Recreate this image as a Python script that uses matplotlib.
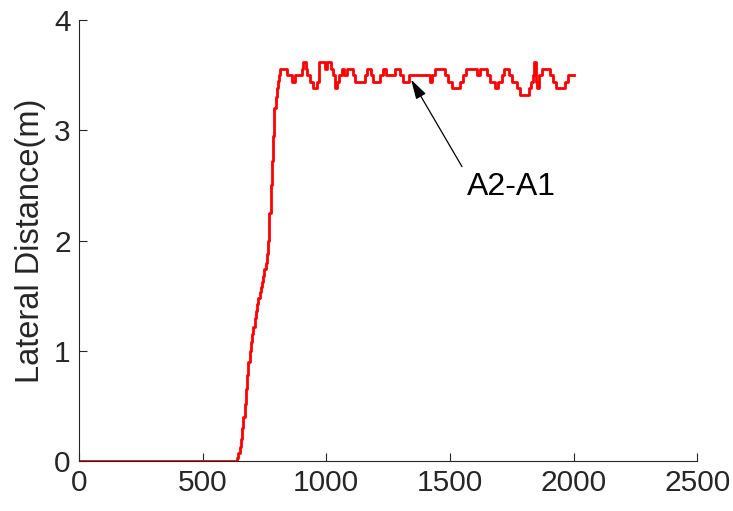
import matplotlib
matplotlib.use("Agg")
import matplotlib.pyplot as plt

plt.rcParams['font.family'] = ['Liberation Sans', 'DejaVu Sans']

# Step breakpoints (x) and the level held from each breakpoint onward
ramp_x = [0, 635, 640, 645, 650, 655, 660, 665, 670, 675, 680, 685, 690, 695, 700,
          705, 710, 715, 720, 725, 730, 735, 740, 745, 750, 755, 760, 765, 770,
          775, 780, 785, 790, 795, 800, 805, 810]
ramp_y = [0, 0, 0.03, 0.07, 0.13, 0.2, 0.3, 0.4, 0.52, 0.65, 0.78, 0.9, 1.0, 1.08, 1.15,
          1.22, 1.3, 1.36, 1.42, 1.48, 1.53, 1.58, 1.62, 1.68, 1.74, 1.8, 1.88, 2.0,
          2.25, 2.5, 2.72, 2.95, 3.2, 3.3, 3.38, 3.45, 3.5]

plateau_x = [813, 840, 860, 874, 901, 907, 916, 924, 935, 948, 964, 972, 995, 1002,
             1018, 1026, 1036, 1045, 1053, 1063, 1072, 1083, 1107, 1117, 1157, 1164,
             1180, 1191, 1218, 1231, 1242, 1278, 1299, 1309, 1336, 1420, 1427, 1440,
             1481, 1494, 1508, 1541, 1552, 1566, 1609, 1622, 1649, 1663, 1683, 1696,
             1710, 1719, 1741, 1750, 1771, 1784, 1818, 1827, 1835, 1841, 1849, 1854,
             1862, 1871, 1905, 1916, 1930, 1966, 1979, 1993, 2000]
plateau_y = [3.56, 3.50, 3.44, 3.50, 3.56, 3.62, 3.56, 3.50, 3.44, 3.38, 3.44, 3.62,
             3.56, 3.62, 3.56, 3.50, 3.38, 3.44, 3.50, 3.56, 3.50, 3.56, 3.50, 3.44,
             3.50, 3.56, 3.50, 3.44, 3.50, 3.56, 3.50, 3.56, 3.50, 3.44, 3.50, 3.44,
             3.50, 3.56, 3.50, 3.44, 3.38, 3.44, 3.50, 3.56, 3.50, 3.56, 3.50, 3.44,
             3.38, 3.44, 3.50, 3.56, 3.50, 3.44, 3.38, 3.32, 3.38, 3.44, 3.50, 3.62,
             3.44, 3.38, 3.50, 3.56, 3.50, 3.44, 3.38, 3.44, 3.50, 3.50, 3.50]

x = ramp_x + plateau_x
y = ramp_y + plateau_y

xticks = [0, 500, 1000, 1500, 2000, 2500]
yticks = [0, 1, 2, 3, 4]
ylabel = "Lateral Distance(m)"
label = "A2-A1"
arrow_tip = (1343, 3.46)
arrow_tail = (1549, 2.67)
text_pos = (1748, 2.49)

fig = plt.figure(figsize=(7.33, 5.11), dpi=100)
ax = fig.add_axes([0.1078, 0.0978, 0.8433, 0.8630])
ax.step(x, y, where='post', color='#FF0000', linewidth=2.0)

ax.set_xlim(0, 2500)
ax.set_ylim(0, 4)
ax.set_xticks(xticks)
ax.set_yticks(yticks)
for s in ['top', 'right']:
    ax.spines[s].set_visible(False)
for s in ['left', 'bottom']:
    ax.spines[s].set_color('#262626')
    ax.spines[s].set_linewidth(0.8)
ax.tick_params(direction='in', length=6, width=0.8, colors='#262626',
               labelsize=21.5, pad=6)
ax.set_ylabel(ylabel, fontsize=23.5, color='#262626', labelpad=6)

ax.annotate('', xy=arrow_tip, xytext=arrow_tail,
            arrowprops=dict(arrowstyle='-|>,head_length=0.6,head_width=0.17',
                            color='black', lw=0.9,
                            mutation_scale=20, shrinkA=0, shrinkB=0))
ax.text(text_pos[0], text_pos[1], label, fontsize=23, color='black',
        ha='center', va='center')

fig.savefig('out.png', dpi=100)
